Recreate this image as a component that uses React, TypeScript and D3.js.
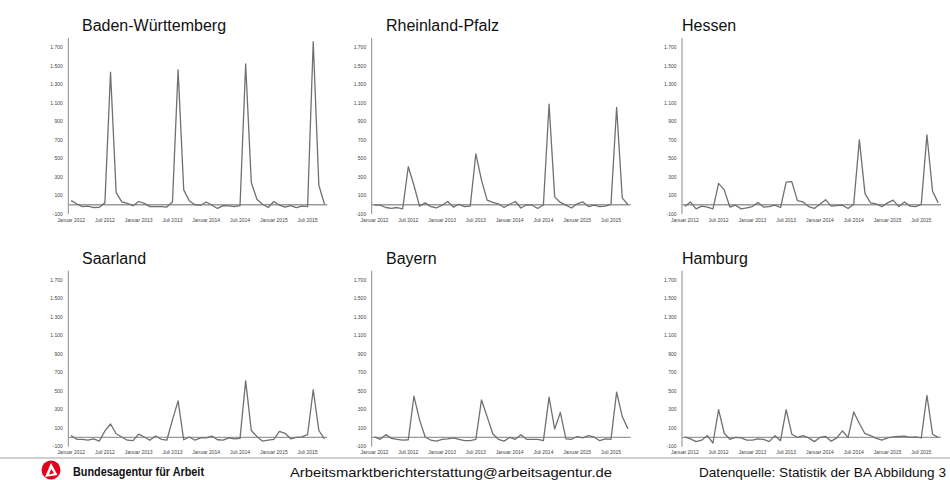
import React from 'react';
import * as d3 from 'd3';

// months Jan 2012 .. Oct 2015 (46 values)
const months = d3.range(46);

const tickLabels = [
  'Januar 2012', 'Juli 2012', 'Januar 2013', 'Juli 2013',
  'Januar 2014', 'Juli 2014', 'Januar 2015', 'Juli 2015',
];
const tickMonths = [0, 6, 12, 18, 24, 30, 36, 42];
const yTicks = [-100, 100, 300, 500, 700, 900, 1100, 1300, 1500, 1700];

const badenWuerttemberg = [
  45, 10, -20, -15, -30, -28, 20, 1430, 130, 30, 15, -10,
  35, 15, -20, -20, -20, -25, 30, 1455, 160, 40, 0, -5,
  30, -5, -40, -10, -12, -20, -10, 1520, 240, 60, 5, -30,
  35, -5, -25, -10, -30, -15, -20, 1760, 210, 5,
];
const rheinlandPfalz = [
  -5, -5, -30, -40, -30, -45, 410, 210, -15, 20, -20, -35,
  -5, 35, -25, 5, -20, -15, 550, 265, 50, 25, 10, -30,
  5, 35, -35, 0, -5, -40, 0, 1085, 85, 25, -5, -35,
  10, 30, -20, -5, -20, -15, 5, 1050, 75, 0,
];
const hessen = [
  -20, 30, -45, -15, -25, -45, 230, 160, -25, -5, -45, -35,
  -20, 25, -25, -20, -5, -30, 245, 250, 45, 30, -20, -40,
  5, 55, -15, -10, -5, -40, 5, 700, 120, 20, 10, -20,
  20, 50, -20, 30, -15, -20, 5, 755, 145, 20,
];
const saarland = [
  20, -20, -20, -30, -15, -40, 70, 145, 40, 5, -30, -35,
  35, 5, -30, 15, -20, -30, 190, 395, -25, 5, -30, -5,
  -5, 15, -25, -30, -5, -15, -10, 610, 75, 10, -40, -30,
  -20, 65, 45, -15, 0, 5, 30, 515, 75, -15,
];
const bayern = [
  5, -20, 30, -10, -20, -30, -25, 445, 190, 5, -30, -40,
  -20, -15, -5, -20, -35, -35, -20, 405, 225, 40, -20, -40,
  0, -20, 30, -20, -20, -20, -35, 435, 90, 270, -15, -20,
  10, -5, 20, 5, -35, -15, -20, 490, 225, 95,
];
const hamburg = [
  5, -15, -45, -30, 20, -60, 300, 45, -20, 0, -5, -30,
  -30, -15, -20, -45, 20, -35, 300, 35, 0, 20, -5, -45,
  0, 10, -40, -5, 70, 0, 275, 150, 40, 20, -10, -30,
  -5, 5, 10, 15, 0, 5, -5, 455, 35, 0,
];

const stateNames = ['Baden-Württemberg', 'Rheinland-Pfalz', 'Hessen', 'Saarland', 'Bayern', 'Hamburg'];
const stateValues = [badenWuerttemberg, rheinlandPfalz, hessen, saarland, bayern, hamburg];

const colX = [68.3, 371.7, 682];
const titleX = [82, 386, 682];
const rowY = [214, 446.7];
const plotW = 259;
const plotH = 176;

const de = d3.formatLocale({ decimal: ',', thousands: '.', grouping: [3], currency: ['', ' €'], minus: '-' });
const fmt = de.format(',d');

function Panel({ name, values, idx }: { name: string; values: number[]; idx: number }) {
  const left = colX[idx % 3];
  const bottom = rowY[Math.floor(idx / 3)];
  const x = d3.scalePoint<number>().domain(months).range([left, left + plotW]).padding(0.5);
  const y = d3.scaleLinear().domain([-100, 1800]).range([bottom, bottom - plotH]);
  const line = d3.line<number>().x((d, i) => x(i) as number).y((d) => y(d));
  return (
    <g>
      <text x={titleX[idx % 3]} y={y(1800) - 7} fontSize={16} fill="#111">{name}</text>
      <line x1={left} x2={left} y1={y(1800)} y2={y(-100)} stroke="#8a8a8a" strokeWidth={1} />
      {yTicks.map((t) => (
        <text key={t} x={left - 5.5} y={y(t)} dy="0.35em" textAnchor="end" fontSize={5} fill="#444">
          {fmt(t)}
        </text>
      ))}
      {tickMonths.map((m, i) => (
        <text key={m} x={x(m)} y={bottom + 6} dy="0.35em" textAnchor="middle" fontSize={5} fill="#444">
          {tickLabels[i]}
        </text>
      ))}
      <line x1={left} x2={left + plotW} y1={y(0)} y2={y(0)} stroke="#9a9a9a" strokeWidth={1.3} />
      <path d={line(values) || ''} fill="none" stroke="#707070" strokeWidth={1.3} strokeLinejoin="round" />
    </g>
  );
}

export default function App() {
  return (
    <svg
      width={950}
      height={480}
      style={{ position: 'absolute', left: 0, top: 0, background: '#fff' }}
      fontFamily="'Liberation Sans', Arial, sans-serif"
    >
      {stateNames.map((n, i) => (
        <Panel key={n} name={n} values={stateValues[i]} idx={i} />
      ))}
      <line x1={0} x2={950} y1={458} y2={458} stroke="#a0a0a0" strokeWidth={1} />
      <g transform="translate(51,470)">
        <circle r={9.5} fill="#e3001b" />
        <path d="M-6,7 L0,-7 L6.5,5 Z" fill="#fff" />
        <path d="M-2,4.5 L0.3,-1 L3,3.3 Z" fill="#e3001b" />
      </g>
      <text x={73} y={476} fontSize={12} fontWeight="bold" fill="#111" textLength={131} lengthAdjust="spacingAndGlyphs">
        Bundesagentur für Arbeit
      </text>
      <text x={290} y={477} fontSize={13} fill="#111" textLength={322} lengthAdjust="spacingAndGlyphs">
        Arbeitsmarktberichterstattung@arbeitsagentur.de
      </text>
      <text x={699} y={477} fontSize={13} fill="#111" textLength={247} lengthAdjust="spacingAndGlyphs">
        Datenquelle: Statistik der BA  Abbildung 3
      </text>
    </svg>
  );
}
